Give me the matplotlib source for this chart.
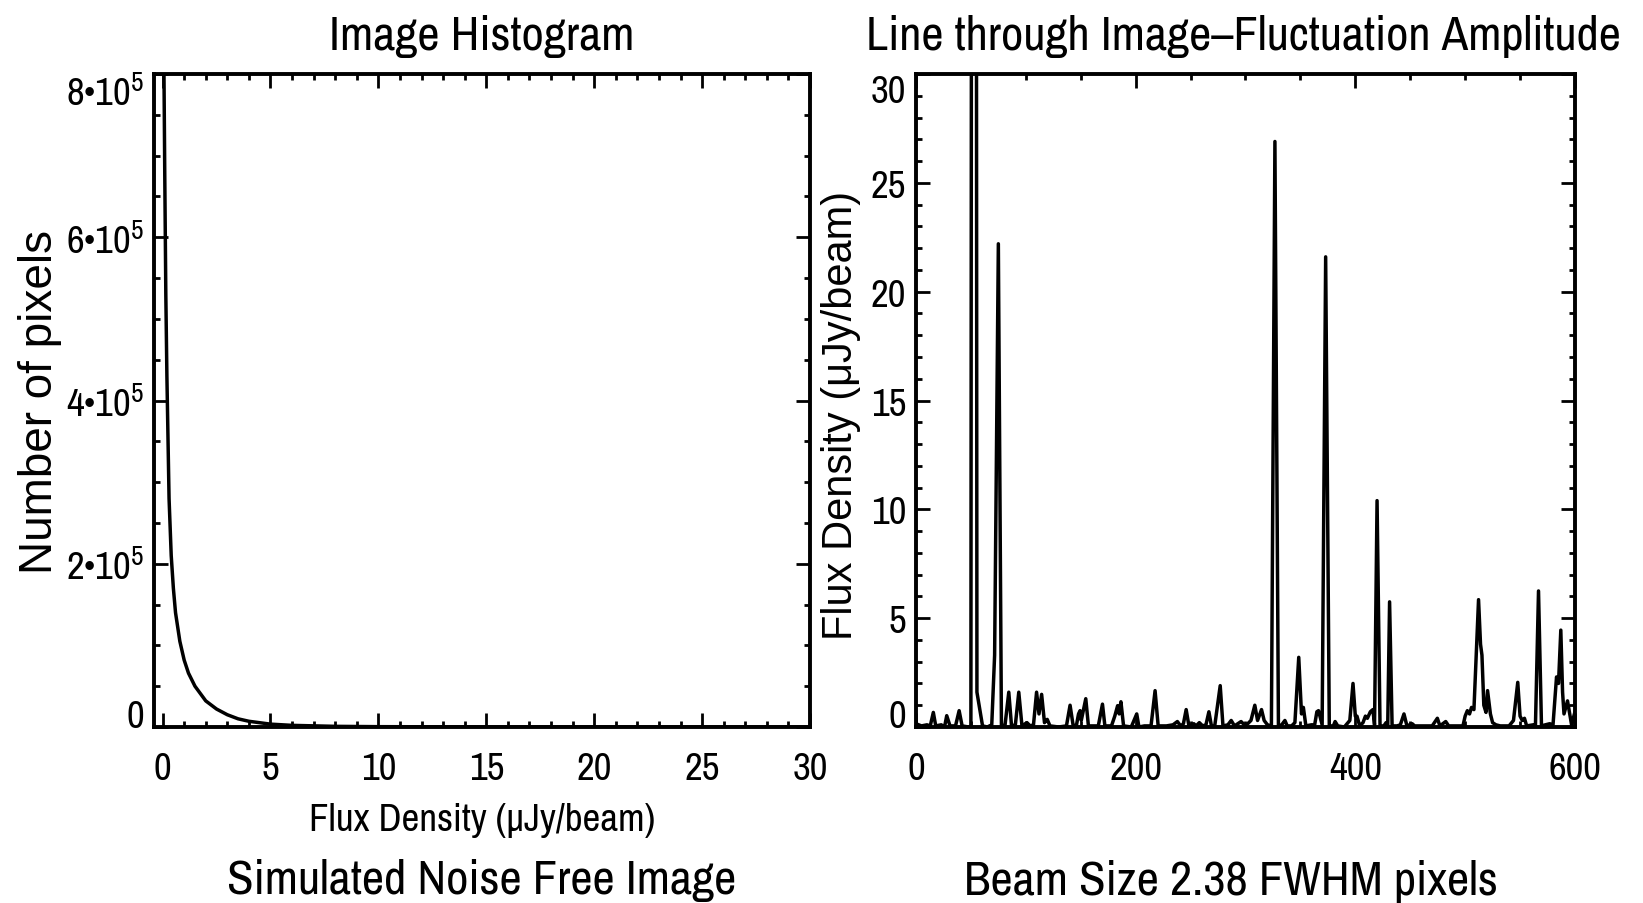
import numpy as np
import matplotlib
matplotlib.use("Agg")
import matplotlib.pyplot as plt
from matplotlib.ticker import MultipleLocator, FixedLocator

# ---- data ----
# left: pixel histogram (flux density in uJy/beam, number of pixels)
hist_flux = [0.0, 0.05, 0.1, 0.15, 0.2, 0.3, 0.4, 0.5, 0.6, 0.8, 1.0, 1.2, 1.5,
             2.0, 2.5, 3.0, 3.5, 4.0, 5.0, 6.0, 8.0, 10.0, 15.0, 20.0, 30.0]
hist_count = [9.5e5, 8.5e5, 6.8e5, 5.3e5, 4.3e5, 2.8e5, 2.1e5, 1.7e5, 1.4e5,
              1.05e5, 0.82e5, 0.66e5, 0.5e5, 0.32e5, 0.22e5, 0.15e5, 0.10e5,
              0.07e5, 0.035e5, 0.02e5, 0.008e5, 0.004e5, 0.001e5, 0.0005e5, 0.0]

# right: cut through the image (pixel, flux density)
line_pix = [0, 5, 10, 13, 15.8, 18, 23, 26, 28, 31, 36, 39.3, 42, 48,
            50.0, 52.8, 55.5, 60.6, 65, 69.0, 70.8, 71.6, 75.0, 77.8, 81,
            84.5, 87, 90.5, 93.6, 96.5, 101, 104, 107, 109.8, 112, 114.4, 117,
            119.5, 122, 130, 137, 140.3, 143, 146, 148, 149.4, 150.5, 154.6,
            157, 162, 166, 169.8, 172, 178, 181, 183.6, 185, 186.6, 189, 196,
            201, 203, 208, 214, 217.7, 220.5, 228, 234, 238, 241, 243.5, 246,
            248.5, 253, 255, 258, 261, 264, 266.7, 269, 272, 277, 279.5, 284,
            287, 290, 293, 296, 299, 302, 305, 308.5, 311, 314.6, 317, 320,
            323.6, 326.8, 330.0, 333, 335.9, 338, 342, 345, 348.5, 351, 352.7,
            355, 360, 363, 365, 366.5, 369.8, 373.0, 376.3, 380, 381.6, 384,
            390, 395, 397.9, 400, 401.5, 404, 407, 409.2, 411, 413.7, 416,
            417.5, 419.8, 422.5, 426, 428, 429.5, 431.2, 433.5, 438, 441,
            444.3, 447, 451.8, 454, 470, 474.7, 477, 482.3, 485, 498, 500,
            502, 504, 505.8, 508, 512.2, 514, 515.3, 517, 519, 520.4, 523, 525,
            528, 532, 540, 544, 547.9, 550, 552, 554, 556, 562, 564, 566.8,
            569.5, 573, 577, 580, 583.2, 585, 587.1, 588.7, 590, 593.2, 596.9,
            600]
line_flux = [0.15, 0.05, 0.1, 0.05, 0.67, 0.05, 0.1, 0.0, 0.52, 0.05, 0.05,
             0.75, 0.05, 0.0,
             0.05, 200.0, 1.6, 0.05, 0.0, 0.1, 2.4, 3.3, 22.2, 0.1, 0.05,
             1.6, 0.05, 0.1, 1.6, 0.05, 0.2, 0.05, 0.1, 1.6, 0.6, 1.5, 0.2,
             0.35, 0.05, 0.0, 0.05, 1.0, 0.1, 0.05, 0.6, 0.75, 0.3, 1.3,
             0.05, 0.05, 0.05, 1.05, 0.05, 0.05, 0.5, 0.98, 0.6, 1.16, 0.05, 0.0,
             0.6, 0.0, 0.05, 0.05, 1.67, 0.05, 0.05, 0.1, 0.25, 0.05, 0.15, 0.8,
             0.05, 0.15, 0.05, 0.2, 0.05, 0.1, 0.7, 0.05, 0.05, 1.9, 0.05, 0.1,
             0.3, 0.05, 0.15, 0.25, 0.1, 0.15, 0.3, 1.0, 0.3, 0.8, 0.3, 0.1,
             0.05, 26.9, 0.05, 0.1, 0.3, 0.05, 0.05, 0.2, 3.2, 0.6, 0.9,
             0.05, 0.1, 0.1, 0.7, 0.75, 0.1, 21.6, 0.05, 0.05, 0.25, 0.05,
             0.0, 0.3, 2.0, 0.5, 0.5, 0.05, 0.2, 0.5, 0.4, 0.7, 0.8,
             0.1, 10.4, 0.05, 0.05, 0.2, 0.05, 5.75, 0.05, 0.05, 0.1,
             0.6, 0.05, 0.15, 0.05, 0.05, 0.4, 0.05, 0.25, 0.05, 0.05, 0.5,
             0.75, 0.6, 0.9, 0.8, 5.85, 3.8, 3.3, 1.0, 0.67, 1.67, 0.6, 0.2,
             0.1, 0.05, 0.05, 0.3, 2.05, 0.5, 0.3, 0.4, 0.05, 0.1, 0.05, 6.25,
             0.05, 0.1, 0.15, 0.1, 2.3, 2.0, 4.45, 1.6, 0.6, 1.2, 0.1,
             0.7]

hist_xticks = [0, 5, 10, 15, 20, 25, 30]
hist_yticks = [0, 2e5, 4e5, 6e5, 8e5]
hist_ylabels = ['0', '2\u202210$^5$', '4\u202210$^5$', '6\u202210$^5$', '8\u202210$^5$']
line_xticks = [0, 200, 400, 600]
line_yticks = [0, 5, 10, 15, 20, 25, 30]

NARROW = ['Archivo Narrow', 'DejaVu Sans']
WIDE = ['Liberation Sans', 'Arimo', 'Roboto', 'DejaVu Sans']

plt.rcParams['font.family'] = NARROW
plt.rcParams['mathtext.fontset'] = 'custom'
plt.rcParams['mathtext.rm'] = 'Archivo Narrow'
plt.rcParams['mathtext.default'] = 'rm'

fig = plt.figure(figsize=(16.43, 9.04), dpi=100)
ax1 = fig.add_axes([0.0937, 0.1947, 0.3993, 0.7223])
ax2 = fig.add_axes([0.5575, 0.1947, 0.4011, 0.7223])


def style(ax):
    for s in ax.spines.values():
        s.set_linewidth(2.8)
    ax.tick_params(which='both', direction='in', top=True, right=True,
                   width=2.0, labelsize=28)
    ax.tick_params(which='major', length=10)
    ax.tick_params(which='minor', length=4.5)
    ax.tick_params(axis='x', pad=17)
    ax.tick_params(axis='y', pad=7)


# left panel
ax1.plot(hist_flux, hist_count, color='black', lw=2.5)
ax1.set_xlim(-0.4, 30)
ax1.set_ylim(0, 8e5)
ax1.xaxis.set_major_locator(FixedLocator(hist_xticks))
ax1.xaxis.set_minor_locator(MultipleLocator(1))
ax1.yaxis.set_major_locator(FixedLocator(hist_yticks))
ax1.yaxis.set_minor_locator(MultipleLocator(5e4))
ax1.set_yticklabels(hist_ylabels)
style(ax1)
ax1.set_xlabel('Flux Density (\u03bcJy/beam)', fontsize=28, va='center')
ax1.xaxis.set_label_coords(0.5, -0.141)
ax1.set_ylabel('Number of pixels', fontsize=33, family=WIDE, va='center')
ax1.yaxis.set_label_coords(-0.174, 0.5)

# right panel
ax2.plot(line_pix, line_flux, color='black', lw=2.5)
ax2.set_xlim(0, 600)
ax2.set_ylim(0, 30)
ax2.xaxis.set_major_locator(FixedLocator(line_xticks))
ax2.xaxis.set_minor_locator(MultipleLocator(50))
ax2.yaxis.set_major_locator(FixedLocator(line_yticks))
ax2.yaxis.set_minor_locator(MultipleLocator(1))
style(ax2)
ax2.set_ylabel('Flux Density (\u03bcJy/beam)', fontsize=30, family=WIDE, va='center')
ax2.yaxis.set_label_coords(-0.114, 0.479)

# end labels sit inside the frame, like the original
for ax in (ax1, ax2):
    ticks = ax.yaxis.get_major_ticks()
    ticks[0].label1.set_va('baseline')
    ticks[-1].label1.set_va('top')

fig.text(482 / 1643, 1 - 37 / 904, 'Image Histogram', ha='center', va='center', fontsize=35)
fig.text(1243 / 1643, 1 - 37 / 904, 'Line through Image\u2013Fluctuation Amplitude',
         ha='center', va='center', fontsize=35)
fig.text(482 / 1643, 1 - 881 / 904, 'Simulated Noise Free Image', ha='center', va='center', fontsize=35)
fig.text(1231 / 1643, 1 - 882 / 904, 'Beam Size 2.38 FWHM pixels', ha='center', va='center', fontsize=35)

fig.savefig('out.png', dpi=100, facecolor='white')
